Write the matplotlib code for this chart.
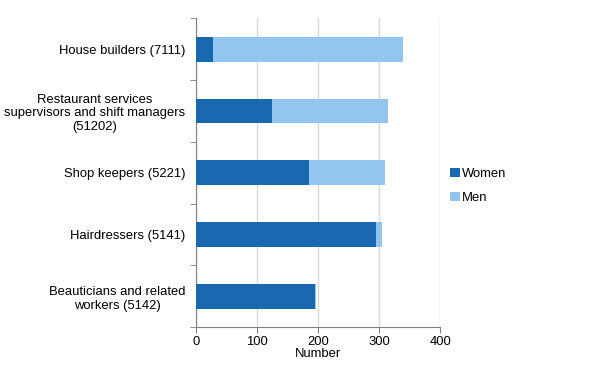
import numpy as np
import matplotlib
matplotlib.use('Agg')
import matplotlib.pyplot as plt

categories = ['House builders (7111)',
              'Restaurant services\nsupervisors and shift managers\n(51202)',
              'Shop keepers (5221)',
              'Hairdressers (5141)',
              'Beauticians and related\nworkers (5142)']
women = [27, 124, 185, 295, 195]
men = [311, 190, 124, 10, 1]
xticks = [0, 100, 200, 300, 400]

plt.rcParams['font.family'] = ['Liberation Sans', 'DejaVu Sans']
plt.rcParams['font.size'] = 9.4

fig = plt.figure(figsize=(5.92, 3.65), dpi=100)
ax = fig.add_axes([0.3316, 0.1033, 0.4122, 0.8466])

y = np.arange(len(categories))
ax.barh(y, women, height=0.4, color='#1a69b0', label='Women', zorder=3)
ax.barh(y, men, left=women, height=0.4, color='#93c5f1', label='Men', zorder=3)

ax.set_ylim(len(categories) - 0.5, -0.5)
ax.set_xlim(0, 400)
ax.set_xticks(xticks)
ax.set_yticks(y)
ax.set_yticklabels(categories, ha='right', multialignment='center')
ax.tick_params(axis='y', length=0, pad=8)
ax.set_yticks(np.arange(len(categories) + 1) - 0.5, minor=True)
ax.tick_params(axis='y', which='minor', length=4, color='#808080', direction='out')
ax.tick_params(axis='x', length=4, color='#808080', pad=2)

ax.grid(axis='x', color='#d9d9d9', linewidth=1, zorder=0)
for s in ['top', 'right']:
    ax.spines[s].set_visible(False)
for s in ['left', 'bottom']:
    ax.spines[s].set_color('#808080')
ax.set_xlabel('Number', labelpad=0)

ax.legend(loc='center left', bbox_to_anchor=(0.752, 0.49), bbox_transform=fig.transFigure,
          frameon=False, handlelength=0.7, handleheight=0.7, handletextpad=0.2,
          labelspacing=0.9, borderaxespad=0)

fig.savefig('out.png', dpi=100)
